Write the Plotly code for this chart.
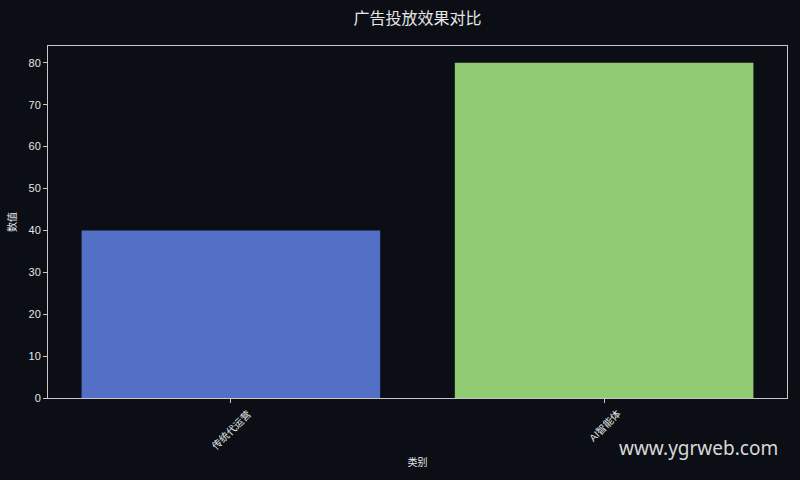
import plotly.graph_objects as go

# 数据
categories = ["传统代运营", "AI智能体"]
values = [40, 80]
bar_colors = ["#5470c6", "#91cc75"]

bg = "#0b0e14"
fg = "#e6e6e6"
font_family = "Liberation Sans, Noto Sans CJK SC, sans-serif"

fig = go.Figure(go.Bar(
    x=categories,
    y=values,
    width=0.8,
    marker=dict(color=bar_colors, line=dict(width=0)),
))

axis_common = dict(
    showline=True, mirror=True, linecolor="#c8c8c8", linewidth=1,
    ticks="outside", ticklen=4, tickcolor="#c8c8c8",
    showgrid=False, zeroline=False,
    tickfont=dict(size=11, color=fg),
)

fig.update_layout(
    width=800, height=480,
    paper_bgcolor=bg, plot_bgcolor=bg,
    font=dict(family=font_family, color=fg),
    margin=dict(l=46, r=12, t=46, b=82),
    title=dict(text="广告投放效果对比", xref="paper", x=0.5, xanchor="center",
               y=1 - 18 / 480, yanchor="middle",
               font=dict(size=16, color=fg)),
    showlegend=False,
)
fig.update_xaxes(axis_common, range=[-0.49, 1.49], showticklabels=False,
                 title=dict(text="类别", font=dict(size=10, color=fg), standoff=56))
fig.update_yaxes(axis_common, range=[0, 84], dtick=10,
                 title=dict(text="数值", font=dict(size=10, color=fg), standoff=10))

# x 轴刻度标签: 斜 45 度, 居中在刻度下方
for cat in categories:
    fig.add_annotation(
        text=cat, x=cat, xref="x", yref="paper", y=-0.02,
        xanchor="center", yanchor="top", textangle=-45, showarrow=False,
        font=dict(size=10, color=fg),
    )

fig.add_annotation(
    text="www.ygrweb.com", xref="paper", yref="paper",
    x=(781 - 46) / 742, y=(398 - 448) / 352,
    xanchor="right", yanchor="middle", showarrow=False,
    font=dict(size=19, color="#d8d8d8", family="Noto Sans, Open Sans, sans-serif"),
)

fig.write_html("out.html", config={"displayModeBar": False},
               post_script="document.body.style.margin='0';")
